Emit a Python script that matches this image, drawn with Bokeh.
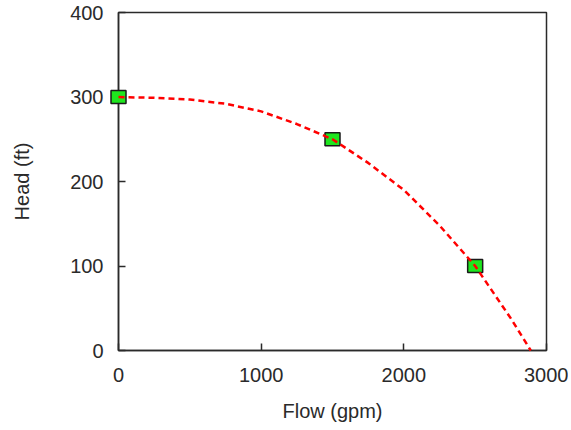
from bokeh.plotting import figure
from bokeh.models import Range1d, FixedTicker
from bokeh.embed import file_html
from bokeh.resources import INLINE

# measured pump data points
flow_pts = [0, 1500, 2500]
head_pts = [300, 250, 100]

# trend curve
curve_flow = [0, 250, 500, 750, 1000, 1250, 1500, 1750, 2000, 2250, 2500, 2750, 2890]
curve_head = [300, 299, 297, 292, 283, 268, 250, 222, 190, 148, 100, 38, 0]

x_ticks = [0, 1000, 2000, 3000]
y_ticks = [0, 100, 200, 300, 400]

FONT = "Liberation Sans"
DARK = "#2a2a2a"

p = figure(width=568, height=428, output_backend="svg", toolbar_location=None,
           x_range=Range1d(0, 3000), y_range=Range1d(0, 400),
           min_border_left=118, min_border_right=22, min_border_top=12,
           min_border_bottom=78, background_fill_color="white",
           border_fill_color="white")

p.outline_line_color = DARK
p.outline_line_width = 1.5
p.xgrid.grid_line_color = None
p.ygrid.grid_line_color = None

p.xaxis.ticker = FixedTicker(ticks=x_ticks)
p.yaxis.ticker = FixedTicker(ticks=y_ticks)
for ax in (p.xaxis[0], p.yaxis[0]):
    ax.axis_line_color = DARK
    ax.axis_line_width = 1.5
    ax.major_tick_line_color = DARK
    ax.major_tick_line_width = 1.5
    ax.major_tick_in = 7
    ax.major_tick_out = 0
    ax.minor_tick_line_color = None
    ax.major_label_text_font = FONT
    ax.major_label_text_font_size = "20px"
    ax.major_label_text_color = DARK
    ax.axis_label_text_font = FONT
    ax.axis_label_text_font_size = "20px"
    ax.axis_label_text_font_style = "normal"
    ax.axis_label_text_color = DARK

p.xaxis.axis_label = "Flow (gpm)"
p.yaxis.axis_label = "Head (ft)"
p.xaxis.major_label_standoff = 17
p.xaxis.axis_label_standoff = 15
p.yaxis.major_label_standoff = 15
p.yaxis.axis_label_standoff = 34

p.rect(x=flow_pts, y=head_pts, width=15, height=13, width_units="screen",
       height_units="screen", fill_color="#1ee61e", line_color="#1a1a1a",
       line_width=1.5, level="overlay")
p.line(curve_flow, curve_head, line_color="#ff0000", line_width=2.5,
       line_dash="6 4", level="overlay")

open("out.html", "w").write(file_html(p, INLINE))
